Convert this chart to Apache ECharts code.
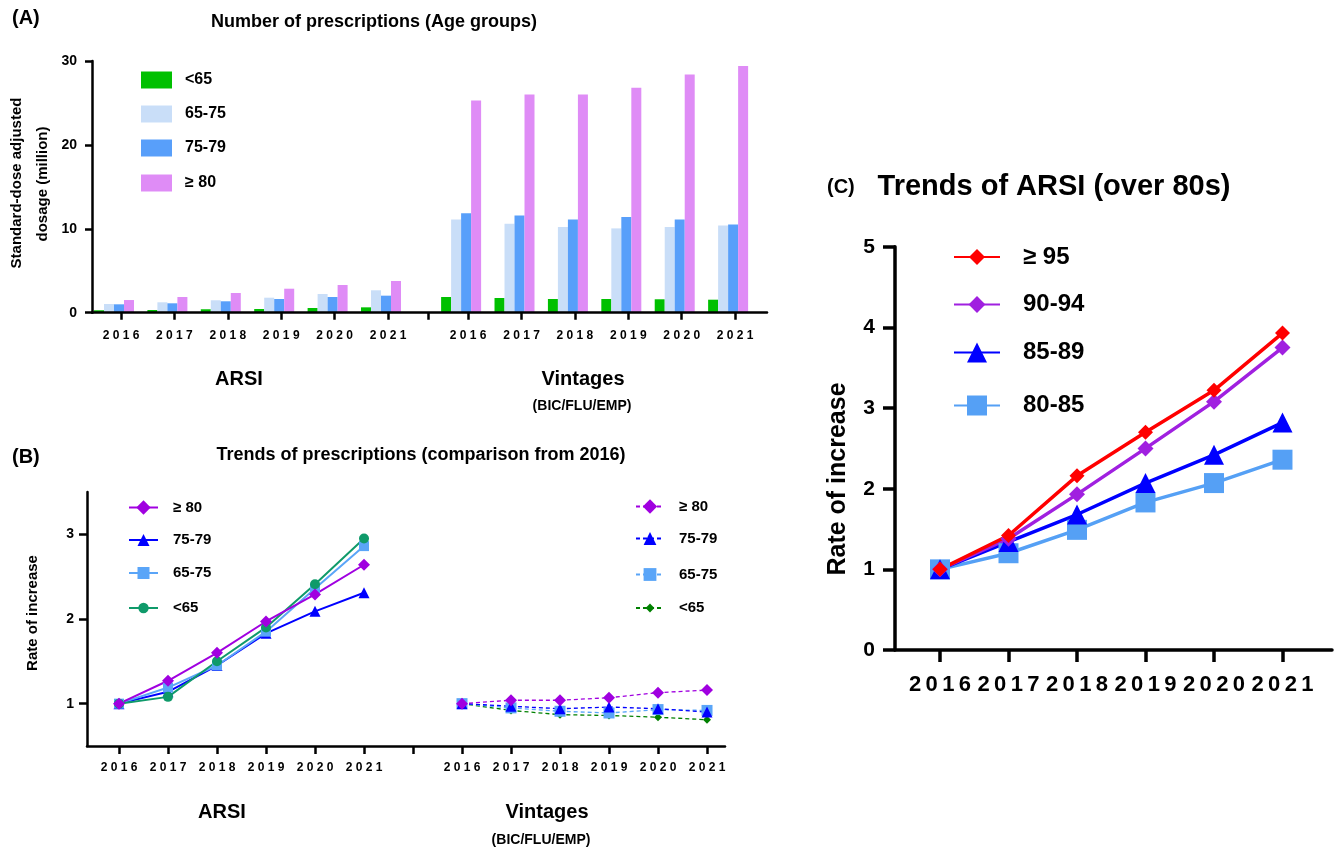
<!DOCTYPE html>
<html>
<head>
<meta charset="utf-8">
<script src="https://cdn.jsdelivr.net/npm/echarts@6/dist/echarts.min.js"></script>
<style>html,body{margin:0;padding:0;background:#fff}#c{width:1338px;height:848px}</style>
</head>
<body>
<div id="c"></div>
<script>
// ---------- data ----------
const years = [2016, 2017, 2018, 2019, 2020, 2021];

// Panel A: standard-dose adjusted dosage (million)
const aArsiU65  = [0.29, 0.32, 0.41, 0.44, 0.56, 0.64];
const aArsi6575 = [1.04, 1.24, 1.48, 1.79, 2.23, 2.67];
const aArsi7579 = [1.00, 1.12, 1.36, 1.63, 1.87, 2.03];
const aArsi80   = [1.51, 1.87, 2.35, 2.86, 3.30, 3.78];
const aVinU65   = [1.87, 1.75, 1.63, 1.63, 1.60, 1.55];
const aVin6575  = [11.1, 10.6, 10.2, 10.05, 10.2, 10.4];
const aVin7579  = [11.85, 11.6, 11.1, 11.4, 11.1, 10.5];
const aVin80    = [25.3, 26.0, 26.0, 26.8, 28.4, 29.4];
const aYTicks   = [0, 10, 20, 30];

// Panel B: rate of increase (from 2016)
const bArsi80   = [1.00, 1.27, 1.60, 1.97, 2.29, 2.64];
const bArsi7579 = [1.00, 1.14, 1.45, 1.83, 2.09, 2.31];
const bArsi6575 = [1.00, 1.19, 1.45, 1.85, 2.36, 2.86];
const bArsiU65  = [1.00, 1.08, 1.50, 1.90, 2.41, 2.95];
const bVin80    = [1.00, 1.04, 1.04, 1.07, 1.13, 1.16];
const bVin7579  = [1.00, 0.97, 0.94, 0.96, 0.94, 0.90];
const bVin6575  = [1.00, 0.95, 0.91, 0.89, 0.93, 0.92];
const bVinU65   = [1.00, 0.92, 0.87, 0.86, 0.84, 0.81];
const bYTicks   = [1, 2, 3];

// Panel C: ARSI over 80s
const c95   = [1.00, 1.42, 2.16, 2.70, 3.22, 3.93];
const c9094 = [1.00, 1.38, 1.93, 2.50, 3.08, 3.75];
const c8589 = [1.00, 1.34, 1.68, 2.07, 2.42, 2.82];
const c8085 = [1.00, 1.20, 1.49, 1.83, 2.07, 2.36];
const cYTicks = [0, 1, 2, 3, 4, 5];

// ---------- layout constants ----------
const FONT = '"Liberation Sans", Arial, Helvetica, sans-serif';
const A_VIN = 6.5, A_SEP = 5.75;   // second group start & separator tick (axis units)
const B_VIN = 7, B_SEP = 6;

const spaced = y => String(y).split('').join(' ');
const spacedThin = y => String(y).split('').join('\u2009');
function pairs(vals, off) { return vals.map((v, i) => [i + off, v]); }
function labelMap(off) { const m = {}; years.forEach((y, i) => { m[String(i)] = y; m[String(i + off)] = y; }); return m; }
const aMap = labelMap(A_VIN), bMap = labelMap(B_VIN);
const idx = years.map((_, i) => i);

function xAxisVis(grid, min, max, lw, tl, fs, margin, tickVals, labVals, map, fmt) {
  return {
    gridIndex: grid, type: 'value', min, max, z: 5,
    axisLine: { show: true, onZero: false, lineStyle: { color: '#000', width: lw } },
    axisTick: { show: true, length: tl, customValues: tickVals, lineStyle: { color: '#000', width: lw } },
    axisLabel: { customValues: labVals, formatter: v => fmt(map[String(v)]), fontSize: fs, fontWeight: 'bold', color: '#000', margin, fontFamily: FONT },
    splitLine: { show: false }
  };
}
function yAxisVis(grid, min, max, lw, tl, fs, margin, ticks) {
  return {
    gridIndex: grid, type: 'value', min, max, z: 5,
    axisLine: { show: true, onZero: false, lineStyle: { color: '#000', width: lw } },
    axisTick: { show: true, length: tl, customValues: ticks, lineStyle: { color: '#000', width: lw } },
    axisLabel: { customValues: ticks, fontSize: fs, fontWeight: 'bold', color: '#000', margin, fontFamily: FONT },
    splitLine: { show: false }
  };
}

const A_MIN = -0.543, A_MAX = 12.097;
const B_MIN = -0.653, B_MAX = 12.367;
const C_MIN = -0.657, C_MAX = 5.723;

const cYear = {}; years.forEach((y, i) => cYear[String(i)] = y);

const xAxes = [
  xAxisVis(0, A_MIN, A_MAX, 2.5, 7, 12, 17, idx.concat([A_SEP], idx.map(i => i + A_VIN)), idx.concat(idx.map(i => i + A_VIN)), aMap, spaced),
  { gridIndex: 1, type: 'value', min: A_MIN, max: A_MAX, show: false },
  xAxisVis(2, B_MIN, B_MAX, 2.5, 8, 12, 16, idx.concat([B_SEP], idx.map(i => i + B_VIN)), idx.concat(idx.map(i => i + B_VIN)), bMap, spaced),
  xAxisVis(3, C_MIN, C_MAX, 3.5, 12, 22, 24, idx, idx, cYear, spacedThin)
];
const yAxes = [
  yAxisVis(0, 0, 30, 2.5, 7, 14, 15, aYTicks),
  { gridIndex: 1, type: 'value', min: 0, max: 30, show: false },
  yAxisVis(2, 0.5, 3.5, 2.5, 8, 14, 13, bYTicks),
  yAxisVis(3, 0, 5, 3.5, 12, 21, 20, cYTicks)
];

// ---------- series ----------
const barCol = { u65: '#00C000', a6575: '#C9DEF8', a7579: '#589FFA', a80: '#DF8CF6' };
function bar(name, arsi, vin, color) {
  return { type: 'bar', name, xAxisIndex: 1, yAxisIndex: 1, barWidth: 10, barGap: '0%',
    data: pairs(arsi, 0).concat(pairs(vin, A_VIN)), itemStyle: { color } };
}
function line(name, data, grid, color, symbol, size, width, dashed) {
  return { type: 'line', name, xAxisIndex: grid, yAxisIndex: grid, data, symbol, symbolSize: size,
    itemStyle: { color }, lineStyle: { color, width, type: dashed ? [4, 3] : 'solid' }, z: 3 };
}
const P = '#A000E0', BL = '#0000FF', LB = '#5AA5F8', GR = '#0F9A6A', DG = '#008000';
const series = [
  bar('A <65', aArsiU65, aVinU65, barCol.u65),
  bar('A 65-75', aArsi6575, aVin6575, barCol.a6575),
  bar('A 75-79', aArsi7579, aVin7579, barCol.a7579),
  bar('A ≥ 80', aArsi80, aVin80, barCol.a80),

  line('B 75-79', pairs(bArsi7579, 0), 2, BL, 'triangle', 11, 2),
  line('B 65-75', pairs(bArsi6575, 0), 2, LB, 'rect', 10, 2),
  line('B <65', pairs(bArsiU65, 0), 2, GR, 'circle', 10, 2),
  line('B ≥ 80', pairs(bArsi80, 0), 2, P, 'diamond', 12, 2),

  line('V <65', pairs(bVinU65, B_VIN), 2, DG, 'diamond', 8, 1.3, true),
  line('V 65-75', pairs(bVin6575, B_VIN), 2, LB, 'rect', 11, 1.3, true),
  line('V 75-79', pairs(bVin7579, B_VIN), 2, BL, 'triangle', 11, 1.3, true),
  line('V ≥ 80', pairs(bVin80, B_VIN), 2, P, 'diamond', 12, 1.3, true),

  line('C 80-85', pairs(c8085, 0), 3, '#55A0F5', 'rect', 20, 3.5),
  line('C 85-89', pairs(c8589, 0), 3, '#0000FF', 'triangle', 20, 3.5),
  line('C 90-94', pairs(c9094, 0), 3, '#A020E0', 'diamond', 16, 3.5),
  line('C ≥ 95', pairs(c95, 0), 3, '#FF0000', 'diamond', 15, 3.5)
];

// ---------- legends ----------
function leg(name, left, cy, w, h, fs, extra, icon) {
  const o = { left, top: cy - h / 2, padding: 0, orient: 'vertical', itemWidth: w, itemHeight: h,
    data: [name], selectedMode: false, formatter: n => n.replace(/^[ABVC] /, ''),
    textStyle: { fontSize: fs, fontWeight: 'bold', color: '#000', fontFamily: FONT, padding: [0, 0, 0, extra] } };
  if (icon) o.icon = icon;
  return o;
}
const legends = [
  leg('A <65', 141, 80, 31, 17, 16, 8, 'rect'),
  leg('A 65-75', 141, 114, 31, 17, 16, 8, 'rect'),
  leg('A 75-79', 141, 148, 31, 17, 16, 8, 'rect'),
  leg('A ≥ 80', 141, 183, 31, 17, 16, 8, 'rect'),

  leg('B ≥ 80', 128, 509, 29, 18, 15, 10),
  leg('B 75-79', 128, 540, 29, 15, 15, 10),
  leg('B 65-75', 128, 573, 29, 15, 15, 10),
  leg('B <65', 128, 607, 29, 13, 15, 10),

  leg('V ≥ 80', 635, 508, 28, 18, 15, 10),
  leg('V 75-79', 635, 539, 28, 16, 15, 10),
  leg('V 65-75', 635, 575, 28, 16, 15, 10),
  leg('V <65', 635, 606, 28, 11, 15, 10),

  leg('C ≥ 95', 953, 255, 46, 20, 24, 18),
  leg('C 90-94', 953, 303, 46, 21, 24, 18),
  leg('C 85-89', 953, 353, 46, 25, 24, 18),
  leg('C 80-85', 953, 406, 46, 25, 24, 18)
];

// ---------- free texts ----------
function txt(text, x, y, fs, align, rot) {
  return { type: 'text', x, y, rotation: rot || 0,
    style: { text, fontSize: fs, fontWeight: 'bold', fontFamily: FONT, fill: '#000', align: align || 'center', verticalAlign: 'middle' } };
}
const R = Math.PI / 2;
const texts = [
  txt('(A)', 12, 18, 20, 'left'),
  txt('Number of prescriptions (Age groups)', 374, 22, 18),
  txt('Standard-dose adjusted', 17, 183, 15, 'center', R),
  txt('dosage (million)', 43, 184, 15, 'center', R),
  txt('ARSI', 239, 379, 20),
  txt('Vintages', 583, 379, 20),
  txt('(BIC/FLU/EMP)', 582, 406, 14),

  txt('(B)', 12, 457, 20, 'left'),
  txt('Trends of prescriptions (comparison from 2016)', 421, 455, 18),
  txt('Rate of increase', 33, 613, 15, 'center', R),
  txt('ARSI', 222, 812, 20),
  txt('Vintages', 547, 812, 20),
  txt('(BIC/FLU/EMP)', 541, 840, 14),

  txt('(C)', 827, 187, 20, 'left'),
  txt('Trends of ARSI (over 80s)', 1054, 187, 29),
  txt('Rate of increase', 838, 479, 25, 'center', R)
];

const chart = echarts.init(document.getElementById('c'), null, { renderer: 'canvas' });
chart.setOption({
  animation: false,
  backgroundColor: '#fff',
  textStyle: { fontFamily: FONT },
  grid: [
    { left: 92, top: 61, width: 675, height: 251.7, outerBoundsMode: 'none' },
    { left: 85, top: 61, width: 675, height: 251.7, outerBoundsMode: 'none' },
    { left: 87, top: 491.9, width: 638, height: 254.1, outerBoundsMode: 'none' },
    { left: 895, top: 246.8, width: 437, height: 403.2, outerBoundsMode: 'none' }
  ],
  xAxis: xAxes,
  yAxis: yAxes,
  legend: legends,
  series,
  graphic: { elements: texts }
});
</script>
</body>
</html>
